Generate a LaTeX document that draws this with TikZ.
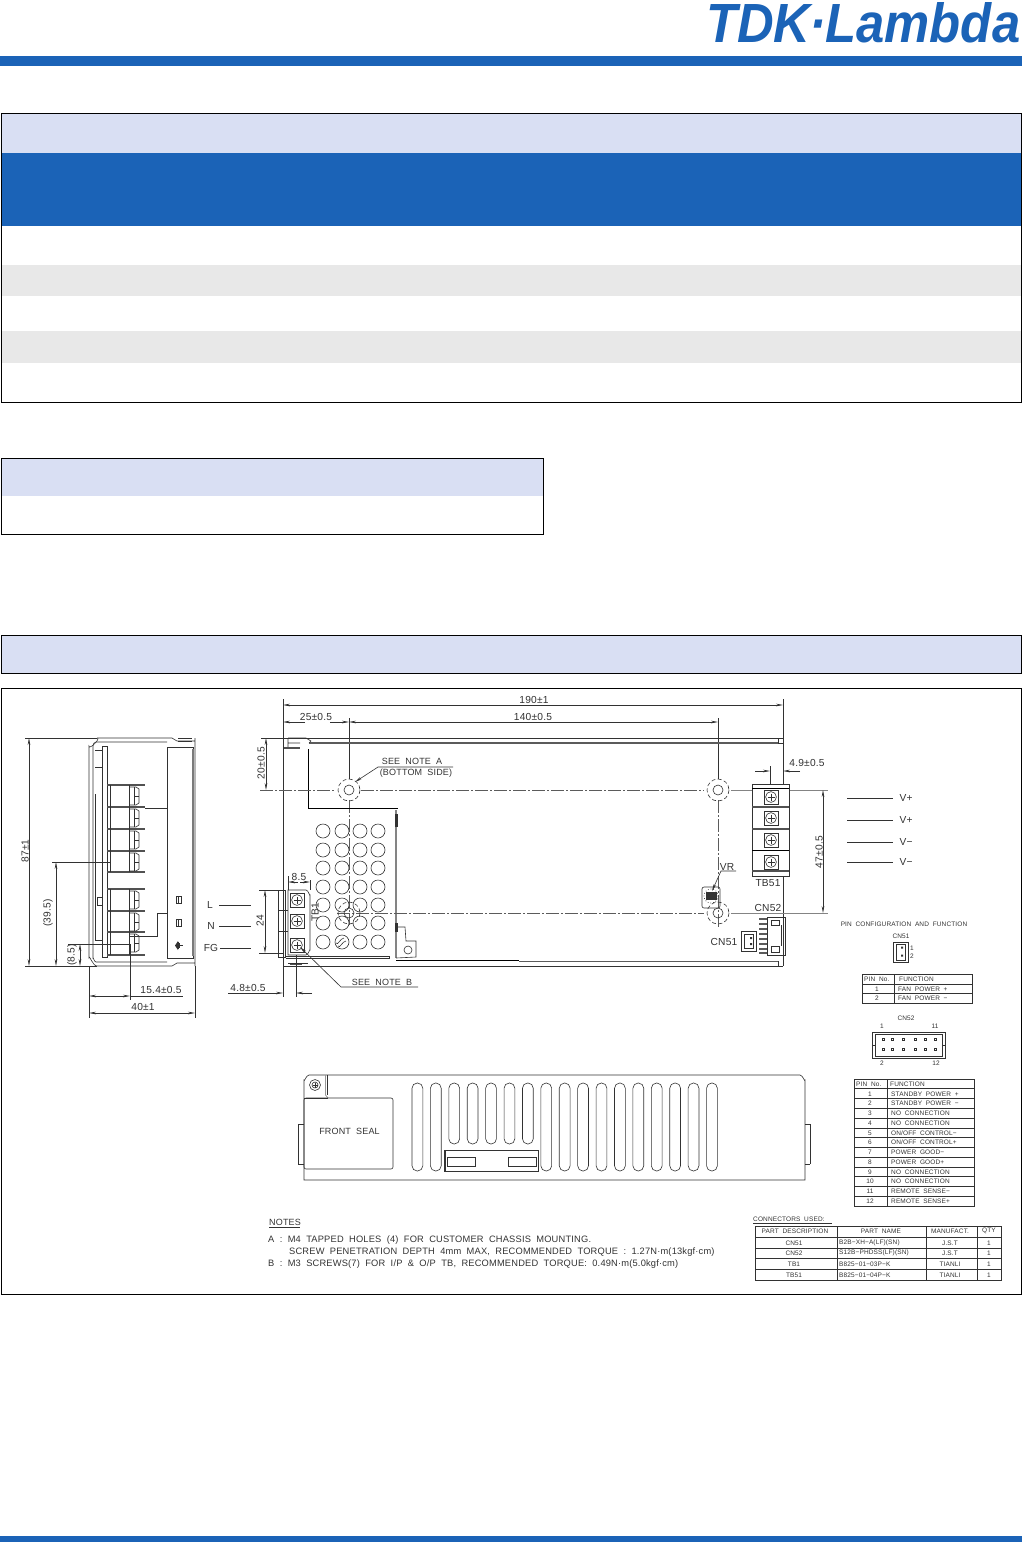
\documentclass[tikz,border=0pt]{standalone}
\usepackage{fontspec}
\usepackage{graphicx}
\usetikzlibrary{arrows.meta}
\setmainfont{Liberation Sans}
\newfontfamily\cadfont[LetterSpace=2]{Liberation Sans}
\newfontfamily\logofont[BoldItalicFont={Liberation Sans Bold Italic}]{Liberation Sans}
\definecolor{tdkblue}{RGB}{27,99,183}
\definecolor{bandlight}{RGB}{217,223,243}
\definecolor{bandgray}{RGB}{232,232,232}
\definecolor{cadink}{RGB}{50,50,50}
\newcounter{lb}
\newcommand\wordgap{\spaceskip=0.58em\relax}
\tikzset{
  cad/.style={font=\cadfont\fontsize{10.2}{11}\selectfont,text=cadink,inner sep=0pt},
  capn/.style={font=\cadfont\fontsize{9}{10}\selectfont,text=cadink,inner sep=0pt},
  notetext/.style={font=\cadfont\fontsize{9.3}{10}\selectfont,text=cadink,inner sep=0pt},
  cads/.style={font=\cadfont\fontsize{6.5}{7}\selectfont,text=cadink,inner sep=0pt},
  ln/.style={draw=cadink,line width=0.6pt},
  thk/.style={draw=black,line width=0.9pt},
  fin/.style={draw=cadink!85,line width=1.4pt},
  dimline/.style={draw=cadink,line width=0.6pt,{Stealth[length=7pt,width=2.6pt]}-{Stealth[length=7pt,width=2.6pt]}},
  tipend/.style={draw=cadink,line width=0.6pt,-{Stealth[length=7pt,width=2.6pt]}},
  center/.style={draw=cadink!80,line width=0.6pt,dash pattern=on 13pt off 2pt on 2pt off 2pt},
  hidden/.style={draw=cadink,line width=0.6pt,dash pattern=on 4pt off 2.4pt},
  frameline/.style={draw=black,line width=0.8pt}
}
\newcommand\lbl[3][cad]{\stepcounter{lb}\node[#1] (lb\arabic{lb}) at (#2) {\wordgap #3};}
\newcommand\screw[2]{%
  \draw[ln] (#1-7,#2-7) rectangle (#1+7,#2+7);
  \draw[ln] (#1,#2) circle (5.4);
  \draw[ln] (#1-3.5,#2) -- (#1+3.5,#2) (#1,#2-3.5) -- (#1,#2+3.5);}
\newcommand\mhole[2]{%
  \draw[hidden] (#1,#2) circle (11);
  \draw[ln] (#1,#2) circle (5);}
\begin{document}
\begin{tikzpicture}[x=1pt,y=-1pt]
\useasboundingbox (0,0) rectangle (1022,1542);
% ---------- header and footer
\node[anchor=south west,inner sep=0pt,text=tdkblue] (logo) at (706,43)
  {\resizebox{314pt}{40pt}{\logofont\bfseries\itshape TDK\kern-0.02em·\kern-0.02em Lambda}};
\fill[tdkblue] (0,56) rectangle (1022,66);
\fill[tdkblue] (0,1536) rectangle (1022,1542);
% ---------- empty tables
\fill[bandlight] (1,113) rectangle (1021,153);
\fill[tdkblue] (1,153) rectangle (1021,226);
\fill[bandgray] (1,265) rectangle (1021,296);
\fill[bandgray] (1,331) rectangle (1021,363);
\draw[frameline] (1,113) rectangle (1021,402);
\fill[bandlight] (1,458) rectangle (543,496);
\draw[frameline] (1,458) rectangle (543,534);
\fill[bandlight] (1,635) rectangle (1021,673);
\draw[frameline] (1,635) rectangle (1021,673);
\draw[frameline] (1,688) rectangle (1021,1294);
% ---------- side view
\draw[ln] (97,738) -- (172,738) -- (177,741) -- (195,741) -- (195,738) -- (195,966) -- (195,963) -- (177,963) -- (172,966) -- (97,966) to[out=180,in=90] (89,958) -- (89,746) to[out=-90,in=0] (97,738);
\draw[ln] (178,738) -- (192,738) (178,741) -- (192,741);
\draw[ln] (167,742) -- (96,742) to[out=180,in=90] (93,746) -- (93,958) to[out=90,in=180] (96,962) -- (167,962);
\draw[ln] (95,750) -- (102,750) (95,767) -- (102,767) (95,944) -- (102,944) (95,940) -- (102,940);
\draw[ln] (95,794) -- (95,940);
\draw[ln] (102,746) rectangle (107,957);
\draw[ln] (167,747) rectangle (193,958);
\draw[draw=cadink!65,line width=1.3pt] (193,749) -- (193,956);
\draw[ln] (97,897) rectangle (102,905);
\foreach \y in {785,807,829,851,872} { \draw[fin] (107,\y) -- (145,\y); }
\foreach \y in {889,911,932,955} { \draw[fin] (107,\y) -- (145,\y); }
\draw[ln] (110,785) -- (110,872) (129,785) -- (129,872) (110,889) -- (110,955) (129,889) -- (129,955);
\foreach \y in {787,809,831,853,891,913,934} {
  \draw[ln] (130,\y) -- (136,\y) -- (139,\y+2) -- (139,\y+16) -- (136,\y+18) -- (130,\y+18);
  \draw[ln] (134,\y) -- (134,\y+18) (134,\y+9) -- (139,\y+9);
}
\draw[ln] (145,808) -- (167,808);
\draw[ln] (167,913) -- (157,913) -- (157,936) -- (129,936);
\draw[ln] (176,896) rectangle (181,903) (178,896) -- (178,903);
\draw[ln] (176,919) rectangle (181,926) (178,919) -- (178,926);
\fill[cadink] (175,945.5) -- (178,941) -- (178,950) -- cycle;
\draw[ln] (178,942) -- (178,949) (179,943) -- (179,948) (180,945.5) -- (183,945.5);
% side-view dimensions
\draw[ln] (25,738) -- (97,738) (25,966) -- (97,966);
\draw[dimline] (29,738) -- (29,966);
\lbl[cad,rotate=90]{25,851}{87±1}
\draw[ln] (52,862) -- (110,862);
\draw[dimline] (56,862) -- (56,966);
\lbl[cad,rotate=90]{48,913}{(39.5)}
\draw[ln] (68,944) -- (130,944);
\draw[dimline] (80,944) -- (80,966);
\lbl[cad,rotate=90]{72,955}{(8.5)}
\draw[ln] (89,966) -- (89,1018) (195,966) -- (195,1018) (130,944) -- (130,1000);
\draw[dimline] (89,996) -- (130,996);
\draw[ln] (130,996) -- (183,996);
\lbl{161,990}{15.4±0.5}
\draw[dimline] (89,1013) -- (195,1013);
\lbl{143,1007}{40±1}
% ---------- input labels
\lbl{210,905}{L}
\lbl{211,926}{N}
\lbl{211,948}{FG}
\draw[ln] (219,905) -- (251,905) (219,926) -- (251,926) (220,948) -- (251,948);
% ---------- main view
\draw[ln] (283,699) -- (283,997) (783,699) -- (783,966);
\draw[dimline] (283,705) -- (783,705);
\lbl{534,699.5}{190±1}
\draw[dimline] (349,722) -- (718,722);
\draw[tipend] (305,722) -- (283,722);
\draw[tipend] (330,722) -- (349,722);
\lbl{316,716.5}{25±0.5}
\lbl{533,716.5}{140±0.5}
\draw[ln] (349,718) -- (349,779) (718,718) -- (718,779);
\draw[center] (349,800) -- (349,925);
\draw[center] (718,800) -- (718,928);
% body
\draw[ln] (283,738) -- (783,738);
\draw[draw=cadink!80,line width=1.1pt] (309,743) -- (778,743);
\draw[ln] (778,738) -- (778,743) (783,743) -- (778,743);
\draw[ln] (288,738) -- (306,738) -- (311,741) -- (309,743) (288,738) -- (288,747) (288,743) -- (300,743);
\draw[fin] (284,748) -- (300,748);
\draw[thk] (308,749) -- (308,808) -- (398,808);
\draw[draw=cadink!60,line width=1.3pt] (396,810) -- (396,958);
\fill[cadink] (395,814) rectangle (398,827);
\fill[cadink] (395,923) rectangle (398,932);
\draw[ln] (398,927) -- (405,927) -- (406,941) -- (416,941) -- (416,957) -- (396,958);
\draw[ln] (408,950) circle (4);
\draw[thk] (396,960.5) -- (519,960.5);
\draw[ln] (286,956) -- (389,956) -- (389,958) -- (286,958);
\draw[ln] (283,966) -- (783,966);
\draw[draw=cadink!80,line width=1pt] (519,961) -- (778,961);
\draw[ln] (778,961) -- (778,966);
\draw[ln] (288,963) -- (308,963) (288,966) -- (308,966);
\draw[fin] (290,964.5) -- (302,964.5);
% holes grid
\foreach \x in {323,342,360,378} {
  \foreach \y in {831,850,868,887,905,923,942} {
    \draw[ln] (\x,\y) circle (7);
  }
}
\draw[ln] (336,943) to[out=-60,in=180] (344,938) (338,946) to[out=-60,in=180] (346,941);
% mounting holes and centrelines
\draw[center] (260,790) -- (335,790);
\draw[center] (361,790) -- (704,790);
\draw[draw=cadink!60,line width=0.8pt] (731,790) -- (828,790);
\draw[center] (337,913) -- (704,913);
\draw[draw=cadink!60,line width=0.8pt] (731,913) -- (828,913);
\mhole{349}{790}
\mhole{718}{790}
\mhole{718}{913}
\mhole{349}{913}
% 20 +- 0.5
\draw[ln] (261,738) -- (283,738);
\draw[dimline] (266,738) -- (266,790);
\lbl[cad,rotate=90]{261,763}{20±0.5}
% see note A
\lbl[capn]{412,761}{SEE NOTE A}
\lbl[capn]{416,773}{(BOTTOM SIDE)}
\draw[tipend] (453,767) -- (378,767) -- (355,782);
% TB1
\draw[ln] (288,890) -- (306,890) to[out=0,in=-90] (310,895) -- (310,950) to[out=90,in=0] (306,955) -- (288,955) -- cycle;
\draw[ln] (278,890) rectangle (285,957);
\draw[ln] (278,910) -- (288,910) (278,931) -- (288,931);
\screw{297}{900}
\screw{297}{921}
\screw{297}{945}
\lbl[cad,rotate=90]{315,912}{TB1}
\draw[ln] (288,876) -- (288,890) (310,880) -- (310,890);
\draw[tipend] (298,882) -- (288,882);
\draw[tipend] (300,882) -- (310,882);
\lbl{299,877}{8.5}
\draw[ln] (259,890) -- (283,890) (259,953) -- (283,953);
\draw[dimline] (265,890) -- (265,953);
\lbl[cad,rotate=90]{260,921}{24}
% see note B
\lbl[capn]{382,982}{SEE NOTE B}
\draw[tipend] (418,987) -- (341,987) -- (300,947);
% 4.8 +- 0.5
\draw[ln] (296,955) -- (296,997);
\lbl{248,988}{4.8±0.5}
\draw[tipend] (228,993) -- (283,993);
\draw[tipend] (312,993) -- (296,993);
% TB51
\filldraw[ln,fill=white] (752,784) rectangle (789,876);
\draw[thk] (752,788) -- (789,788) (752,850) -- (789,850);
\draw[fin] (752,807) -- (789,807) (752,829) -- (789,829) (752,871) -- (789,871);
\screw{771}{797}
\screw{771}{818}
\screw{771}{840}
\screw{771}{862}
\lbl{768,883}{TB51}
\draw[ln] (770,766) -- (770,784) (783,771) -- (783,784);
\draw[tipend] (755,771) -- (770,771);
\draw[tipend] (800,771) -- (783,771);
\lbl{807,763}{4.9±0.5}
\draw[dimline] (823,790) -- (823,913);
\lbl[cad,rotate=90]{819,852}{47±0.5}
% output labels
\foreach \y in {798,820,842,862} { \draw[ln] (847,\y) -- (893,\y); }
\lbl{906,798}{V+}
\lbl{906,820}{V+}
\lbl{906,842}{V−}
\lbl{906,862}{V−}
% VR
\draw[ln,rounded corners=2pt] (702,887) rectangle (720,908);
\fill[cadink] (706,892) rectangle (717,900);
\draw[draw=cadink,line width=0.7pt,dotted] (711,896) circle (7);
\lbl{727,867}{VR}
\draw[tipend] (736,871) -- (721,871) -- (712,891);
% CN52, CN51 on board
\lbl{768,908}{CN52}
\draw[ln] (767,917) rectangle (785,955);
\foreach \y in {919,924,929,934,939,944,949,953} { \draw[draw=cadink!80,line width=1.1pt] (759,\y) -- (767,\y); }
\draw[ln] (771,920) rectangle (779,925) (771,946) rectangle (779,952) (781,925) -- (781,946);
\lbl{724,942}{CN51}
\draw[ln] (741,931) rectangle (756,951);
\draw[ln] (744,934) rectangle (753,948);
\fill[cadink] (750,937) rectangle (752,939) (750,943) rectangle (752,945);
% ---------- pin configuration
\lbl[cads]{904,924}{PIN CONFIGURATION AND FUNCTION}
\lbl[cads]{901,936}{CN51}
\draw[ln] (893,942) rectangle (908,962);
\draw[ln] (896,944) rectangle (905,960);
\fill[cadink] (901,946.5) rectangle (903,948.5) (901,954.5) rectangle (903,956.5);
\lbl[cads]{912,948}{1}
\lbl[cads]{912,956}{2}
\draw[ln] (862,974) rectangle (972,1003);
\draw[ln] (894,974) -- (894,1003) (862,984) -- (972,984) (862,993.5) -- (972,993.5);
\lbl[cads,anchor=west]{864,979}{PIN No.}
\lbl[cads,anchor=west]{899,979}{FUNCTION}
\lbl[cads]{877,989}{1}
\lbl[cads,anchor=west]{898,989}{FAN POWER +}
\lbl[cads]{877,998.5}{2}
\lbl[cads,anchor=west]{898,998.5}{FAN POWER −}
% CN52 detail
\lbl[cads]{906,1018}{CN52}
\draw[ln] (872,1032) rectangle (945,1058);
\draw[ln] (875,1034) rectangle (942,1056);
\draw[ln] (872,1045) -- (875,1045) (942,1045) -- (945,1045);
\foreach \x in {883,892,903,915,925,935} {
  \draw[ln] (\x-1.2,1037.8) rectangle (\x+1.2,1040.2);
  \draw[ln] (\x-1.2,1047.8) rectangle (\x+1.2,1050.2);
}
\lbl[cads]{882,1026}{1}
\lbl[cads]{935,1026}{11}
\lbl[cads]{882,1063}{2}
\lbl[cads]{936,1063}{12}
\draw[ln] (854,1079) rectangle (974,1206);
\draw[ln] (887,1079) -- (887,1206);
\foreach \i in {1,...,12} { \draw[ln] (854,1079+\i*9.77) -- (974,1079+\i*9.77); }
\lbl[cads,anchor=west]{856,1084.5}{PIN No.}
\lbl[cads,anchor=west]{890,1084.5}{FUNCTION}
\foreach \n/\t [count=\i] in {1/STANDBY POWER +,2/STANDBY POWER −,3/NO CONNECTION,4/NO CONNECTION,5/ON{/}OFF CONTROL−,6/ON{/}OFF CONTROL+,7/POWER GOOD−,8/POWER GOOD+,9/NO CONNECTION,10/NO CONNECTION,11/REMOTE SENSE−,12/REMOTE SENSE+} {
  \lbl[cads]{870,1084+\i*9.77}{\n}
  \lbl[cads,anchor=west]{891,1084+\i*9.77}{\t}
}
% ---------- front view
\draw[ln] (304,1170) -- (304,1080) to[out=-90,in=180] (309,1075) -- (800,1075) to[out=0,in=-90] (805,1080) -- (805,1180) -- (304,1180) -- (304,1170);
\draw[ln] (298,1124) -- (304,1124) (298,1164) -- (304,1164) (298,1124) -- (298,1164);
\draw[ln] (810,1124) -- (805,1124) (810,1164) -- (805,1164) (810,1124) -- (810,1164);
\draw[ln] (327,1075) -- (327,1095);
\draw[draw=cadink!50,line width=0.8pt] (325.5,1075) -- (325.5,1095) -- (328,1098);
\draw[ln] (315,1085) circle (5.5);
\draw[ln] (315,1085) circle (3);
\draw[ln] (312.5,1085) -- (317.5,1085) (315,1082.5) -- (315,1087.5);
\draw[ln,rounded corners=2pt] (304,1098) rectangle (393,1169);
\draw[draw=cadink,line width=0.7pt] (304,1098) -- (328,1098);
\lbl[capn]{349.5,1131.5}{FRONT SEAL}
\foreach \k in {0,...,16} {
  \pgfmathsetmacro{\xa}{412+\k*18.41}
  \pgfmathsetmacro{\xb}{\xa+10.8}
  \ifnum\k>1 \ifnum\k<7
    \def\yb{1144}
  \else
    \def\yb{1171}
  \fi\else
    \def\yb{1171}
  \fi
  \draw[ln,rounded corners=5.2pt] (\xa,1083) rectangle (\xb,\yb);
}
\fill[white] (445,1150) rectangle (538.5,1172);
\draw[draw=black!80,line width=1.1pt] (445,1150.5) rectangle (538.5,1171.5);
\draw[ln] (447.5,1157) rectangle (475,1166);
\draw[ln] (508,1157) rectangle (536,1166);
% ---------- notes
\lbl[capn,anchor=west]{269,1222}{NOTES}
\draw[ln] (269,1227) -- (300,1227);
\lbl[notetext,anchor=west]{268,1240}{A : M4 TAPPED HOLES (4) FOR CUSTOMER CHASSIS MOUNTING.}
\lbl[notetext,anchor=west]{289,1252}{SCREW PENETRATION DEPTH 4mm MAX, RECOMMENDED TORQUE : 1.27N·m(13kgf·cm)}
\lbl[notetext,anchor=west]{268,1264}{B : M3 SCREWS(7) FOR I/P \& O/P TB, RECOMMENDED TORQUE: 0.49N·m(5.0kgf·cm)}
% ---------- connectors used
\lbl[cads,anchor=west]{753,1219}{CONNECTORS USED:}
\draw[ln] (753,1223) -- (832,1223);
\draw[ln] (755,1226) rectangle (1001,1280);
\draw[ln] (837,1226) -- (837,1280) (926,1226) -- (926,1280) (977,1226) -- (977,1280);
\foreach \y in {1237,1248,1258,1269} { \draw[ln] (755,\y) -- (1001,\y); }
\lbl[cads]{795,1231}{PART DESCRIPTION}
\lbl[cads]{881,1231}{PART NAME}
\lbl[cads]{950,1231}{MANUFACT.}
\lbl[cads]{989,1231}{QTY}
\foreach \a/\b/\c/\y in {CN51/B2B−XH−A(LF)(SN)/J.S.T/1243,CN52/S12B−PHDSS(LF)(SN)/J.S.T/1253,TB1/B825−01−03P−K/TIANLI/1264,TB51/B825−01−04P−K/TIANLI/1275} {
  \lbl[cads]{794,\y}{\a}
  \lbl[cads,anchor=west]{839,\y}{\b}
  \lbl[cads]{950,\y}{\c}
  \lbl[cads]{989,\y}{1}
}
\end{tikzpicture}
\end{document}
